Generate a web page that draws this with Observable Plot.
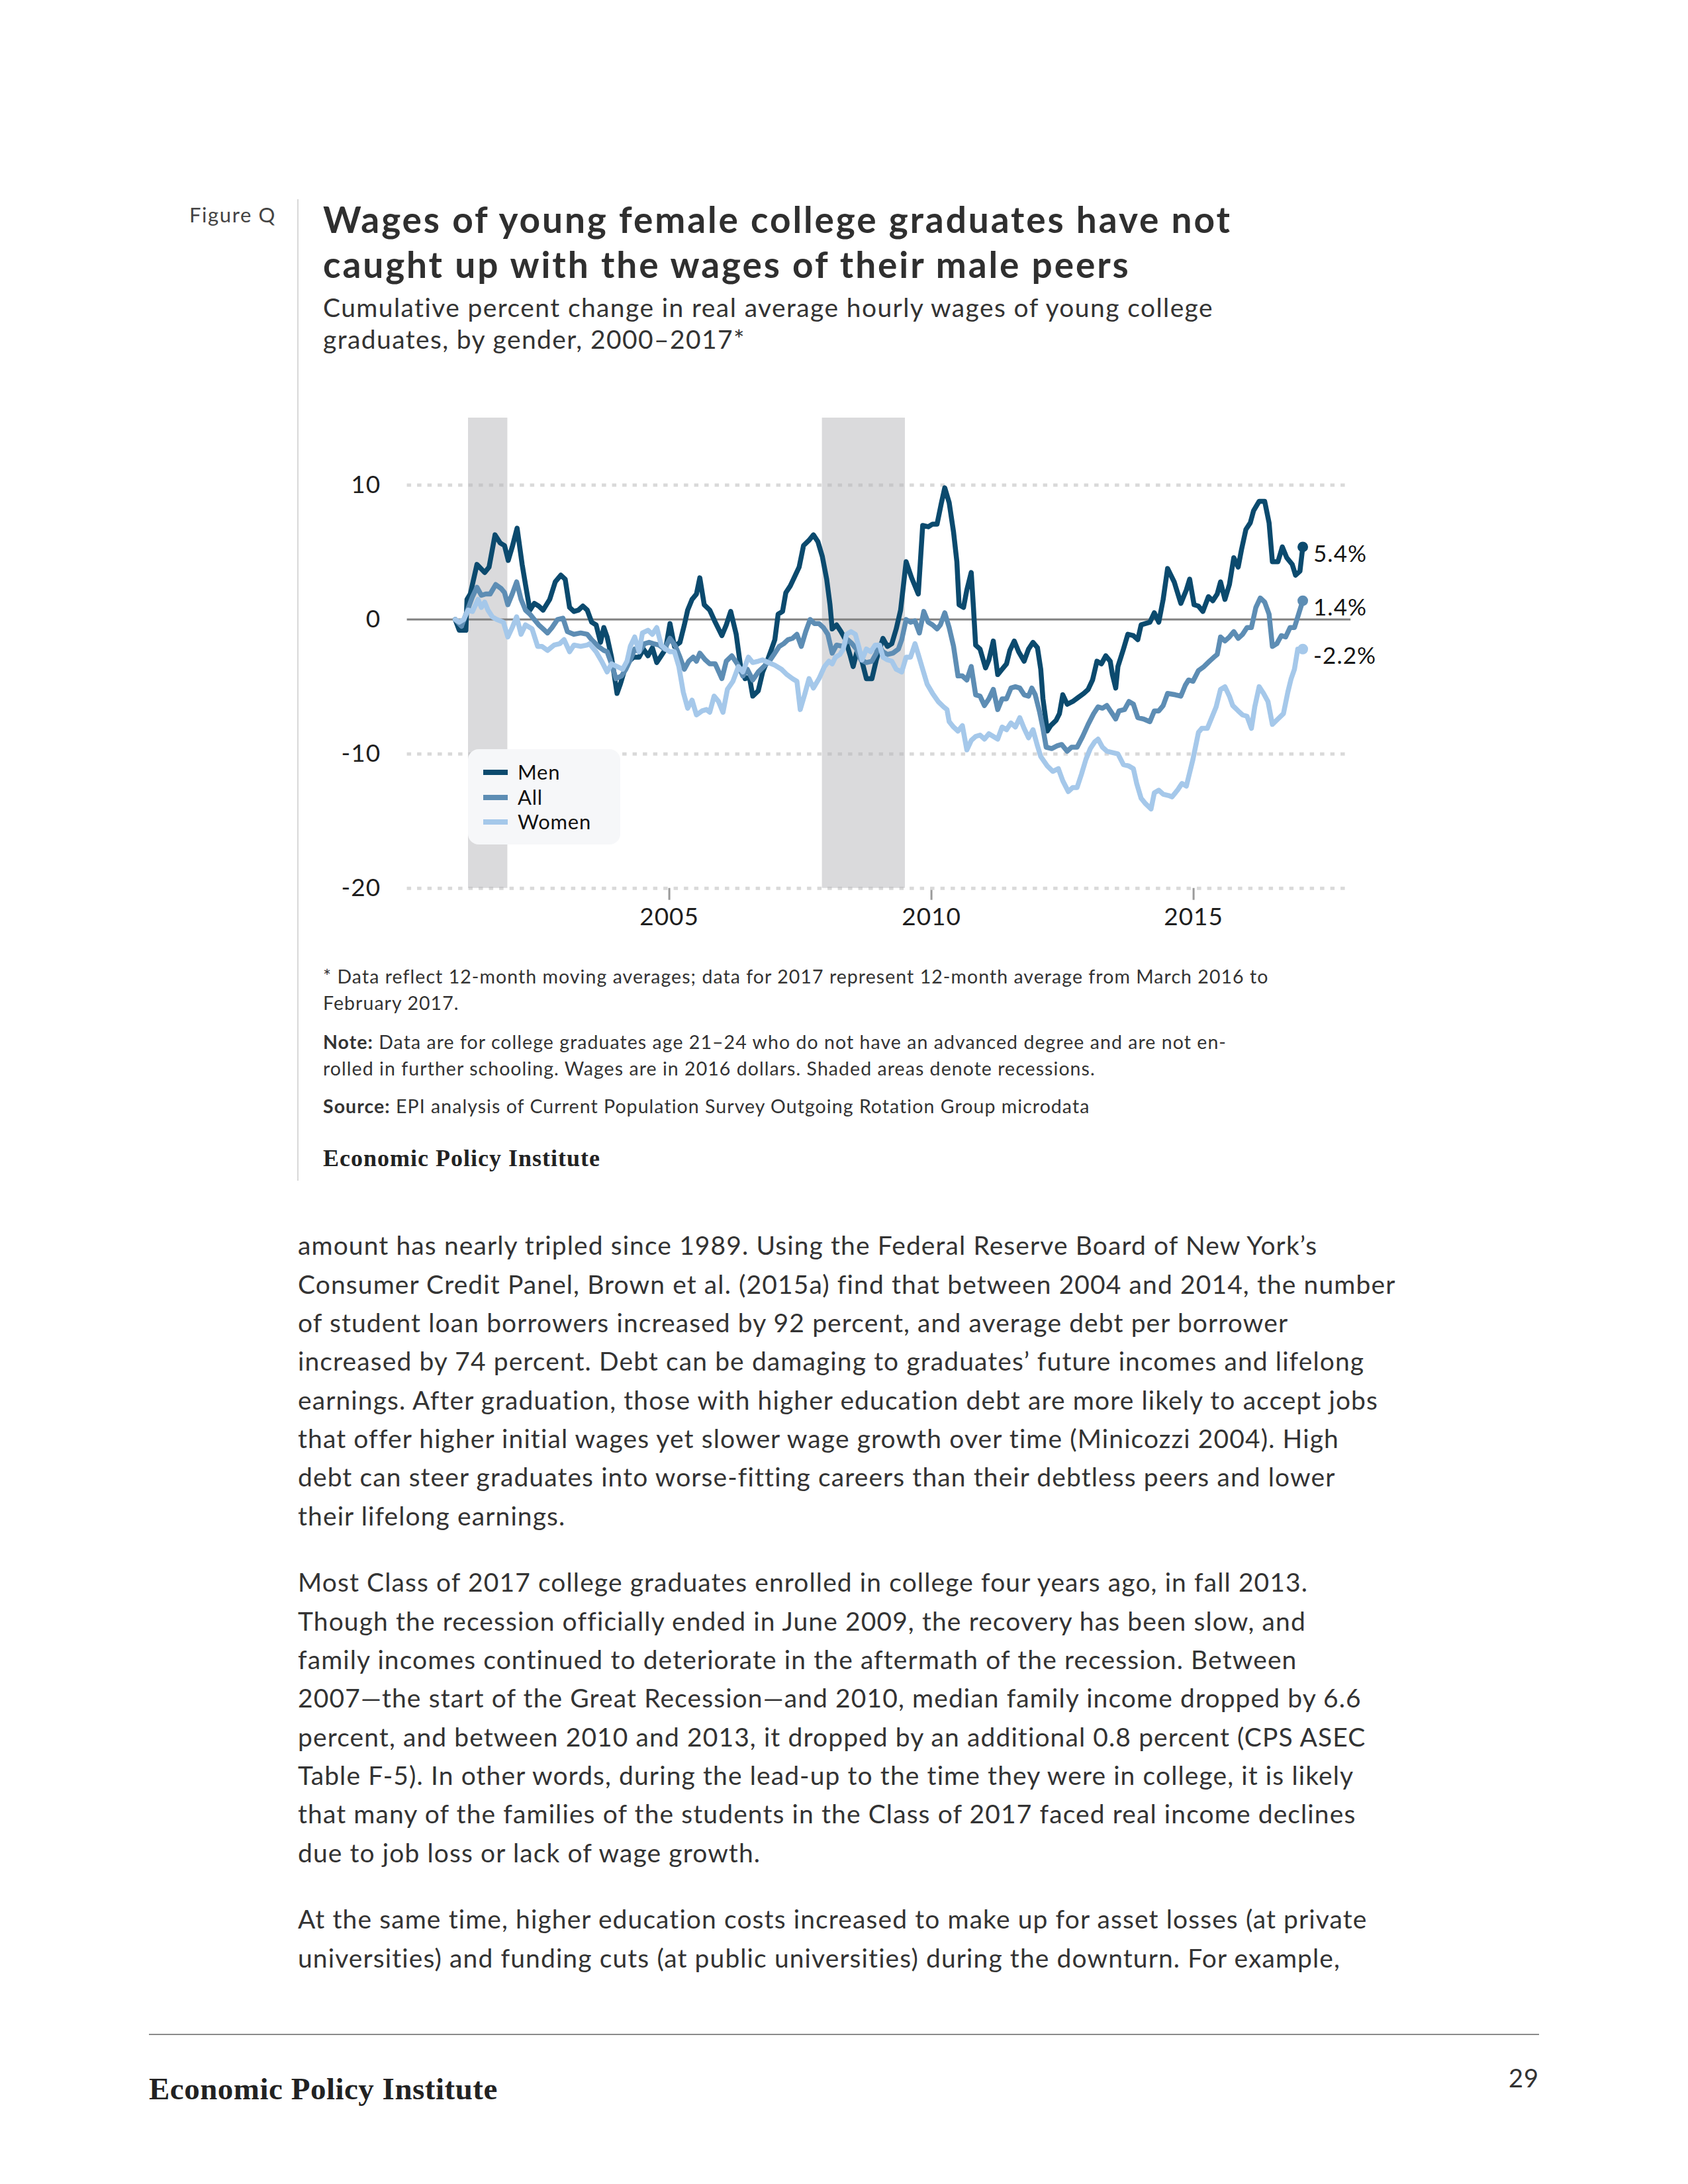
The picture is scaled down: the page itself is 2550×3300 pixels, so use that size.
<!DOCTYPE html>
<html><head><meta charset="utf-8">
<script src="https://cdn.jsdelivr.net/npm/d3@7"></script>
<script src="https://cdn.jsdelivr.net/npm/@observablehq/plot@0.6"></script>
<style>
html,body{margin:0;padding:0;background:#fff;}
#page{position:relative;width:2550px;height:3300px;background:#fff;overflow:hidden;font-family:Lato,"Open Sans",sans-serif;color:#333;}
.t{position:absolute;white-space:nowrap;line-height:1;}
#chart{position:absolute;left:0;top:600px;}
#chart svg{overflow:visible;}
#chart svg text{letter-spacing:1px;}
</style></head><body><div id="page"></div>
<script>
// ---------- data (year fraction, cumulative % change) ----------
const seriesNames = ["Men", "All", "Women"];
const seriesColors = ["#0b4a6e", "#5d8db4", "#a5c8ea"];
const xTicks = [2005, 2010, 2015];
const yTicks = [-20, -10, 0, 10];
const recessions = [{start: 2001.167, end: 2001.917}, {start: 2007.917, end: 2009.5}];

const men = [[2000.917,0.0],[2000.994,-0.8],[2001.12,-0.8],[2001.141,1.5],[2001.204,1.9],[2001.331,4.1],[2001.478,3.5],[2001.562,3.9],[2001.676,6.3],[2001.773,5.7],[2001.857,5.5],[2001.928,4.4],[2002.004,5.4],[2002.097,6.8],[2002.193,4.1],[2002.257,2.6],[2002.341,0.7],[2002.425,1.2],[2002.509,1.0],[2002.593,0.7],[2002.719,1.5],[2002.825,2.8],[2002.930,3.3],[2003.014,3.0],[2003.098,0.9],[2003.182,0.6],[2003.267,0.7],[2003.351,1.0],[2003.435,0.7],[2003.519,-0.2],[2003.604,-0.4],[2003.688,-1.7],[2003.751,-0.6],[2003.814,-1.3],[2003.898,-2.8],[2004.003,-5.5],[2004.067,-4.8],[2004.151,-3.7],[2004.235,-3.1],[2004.319,-2.8],[2004.424,-2.8],[2004.508,-2.2],[2004.593,-2.7],[2004.677,-2.1],[2004.761,-3.2],[2004.845,-2.7],[2004.929,-2.2],[2005.013,-0.3],[2005.098,-2.0],[2005.203,-1.7],[2005.287,-0.4],[2005.350,0.7],[2005.434,1.5],[2005.518,1.9],[2005.582,3.1],[2005.666,1.1],[2005.771,0.7],[2005.876,-0.2],[2006.003,-1.2],[2006.087,-0.4],[2006.171,0.6],[2006.276,-1.1],[2006.360,-3.5],[2006.445,-4.4],[2006.529,-4.3],[2006.592,-5.7],[2006.697,-5.3],[2006.781,-3.9],[2006.866,-3.1],[2006.950,-2.2],[2007.013,-1.5],[2007.076,0.4],[2007.160,0.6],[2007.223,2.0],[2007.307,2.5],[2007.392,3.2],[2007.476,3.9],[2007.560,5.5],[2007.665,5.9],[2007.749,6.3],[2007.834,5.8],[2007.918,4.7],[2008.002,3.0],[2008.065,1.1],[2008.107,-0.7],[2008.191,-0.4],[2008.275,-0.9],[2008.360,-1.5],[2008.444,-2.6],[2008.507,-3.5],[2008.591,-2.2],[2008.675,-3.1],[2008.759,-4.4],[2008.865,-4.4],[2008.949,-3.0],[2009.075,-1.4],[2009.160,-2.0],[2009.244,-1.8],[2009.328,-0.7],[2009.412,0.7],[2009.517,4.3],[2009.622,3.1],[2009.749,1.9],[2009.833,7.0],[2009.938,6.9],[2010.022,7.1],[2010.107,7.1],[2010.191,8.7],[2010.254,9.8],[2010.338,8.7],[2010.422,6.5],[2010.485,4.3],[2010.527,1.1],[2010.612,0.9],[2010.675,2.2],[2010.759,3.5],[2010.801,0.9],[2010.843,-1.9],[2010.927,-2.2],[2011.032,-3.6],[2011.096,-3.0],[2011.180,-1.6],[2011.264,-4.1],[2011.348,-3.7],[2011.432,-3.3],[2011.495,-2.3],[2011.580,-1.6],[2011.664,-2.4],[2011.768,-3.1],[2011.852,-2.2],[2011.937,-1.7],[2012.022,-2.1],[2012.085,-3.7],[2012.127,-5.9],[2012.210,-8.3],[2012.273,-7.9],[2012.378,-7.5],[2012.442,-7.0],[2012.505,-5.6],[2012.589,-6.3],[2012.694,-6.1],[2012.799,-5.8],[2012.905,-5.5],[2012.989,-5.2],[2013.073,-4.5],[2013.157,-3.1],[2013.241,-3.3],[2013.325,-2.7],[2013.410,-3.1],[2013.452,-4.1],[2013.515,-5.1],[2013.557,-3.5],[2013.662,-2.2],[2013.746,-1.1],[2013.852,-1.2],[2013.936,-1.5],[2013.999,-0.4],[2014.083,-0.3],[2014.167,-0.2],[2014.251,0.5],[2014.336,-0.2],[2014.420,1.5],[2014.504,3.8],[2014.630,2.8],[2014.757,1.2],[2014.862,2.2],[2014.925,3.0],[2015.009,1.1],[2015.093,1.0],[2015.177,0.6],[2015.283,1.7],[2015.367,1.4],[2015.451,1.9],[2015.514,2.8],[2015.598,1.5],[2015.683,2.6],[2015.767,4.6],[2015.851,3.9],[2015.914,5.2],[2015.998,6.7],[2016.082,7.2],[2016.145,8.1],[2016.251,8.8],[2016.356,8.8],[2016.440,7.2],[2016.503,4.3],[2016.609,4.3],[2016.693,5.4],[2016.777,4.6],[2016.882,4.1],[2016.945,3.3],[2017.029,3.6],[2017.083,5.4]];

const all = [[2000.917,0.0],[2001.036,-0.5],[2001.141,0.6],[2001.246,1.7],[2001.331,2.4],[2001.415,1.8],[2001.499,1.9],[2001.583,1.9],[2001.688,2.6],[2001.794,2.3],[2001.857,2.0],[2001.920,1.1],[2002.004,1.9],[2002.088,2.8],[2002.172,1.5],[2002.257,0.7],[2002.341,0.4],[2002.425,0.0],[2002.509,-0.4],[2002.593,-0.7],[2002.677,-1.0],[2002.762,-0.6],[2002.867,0.0],[2002.972,0.1],[2003.056,-0.9],[2003.182,-1.1],[2003.309,-1.0],[2003.435,-1.1],[2003.519,-1.5],[2003.646,-2.0],[2003.751,-2.3],[2003.814,-2.4],[2003.898,-3.3],[2003.982,-4.4],[2004.088,-4.2],[2004.172,-3.7],[2004.256,-3.0],[2004.340,-2.2],[2004.424,-2.4],[2004.529,-1.8],[2004.614,-1.7],[2004.698,-1.8],[2004.803,-1.9],[2004.908,-2.2],[2005.013,-1.4],[2005.119,-2.0],[2005.203,-2.8],[2005.287,-3.7],[2005.371,-3.1],[2005.455,-2.8],[2005.518,-3.1],[2005.582,-2.5],[2005.687,-3.0],[2005.771,-3.3],[2005.876,-3.3],[2006.003,-4.4],[2006.087,-3.1],[2006.192,-2.7],[2006.297,-3.3],[2006.403,-4.2],[2006.487,-3.7],[2006.592,-4.5],[2006.697,-3.9],[2006.802,-3.5],[2006.908,-3.1],[2007.013,-2.5],[2007.097,-2.0],[2007.181,-1.8],[2007.265,-1.5],[2007.350,-1.4],[2007.434,-1.1],[2007.518,-2.0],[2007.602,-0.9],[2007.686,0.0],[2007.770,-0.3],[2007.855,-0.3],[2007.939,-0.6],[2008.023,-1.1],[2008.107,-2.5],[2008.191,-1.9],[2008.318,-2.0],[2008.402,-1.5],[2008.486,-1.8],[2008.570,-2.2],[2008.654,-3.0],[2008.759,-3.2],[2008.865,-3.1],[2008.949,-2.5],[2008.991,-1.9],[2009.075,-2.4],[2009.160,-2.6],[2009.265,-2.5],[2009.370,-2.2],[2009.433,-1.5],[2009.517,0.0],[2009.601,-0.2],[2009.686,-0.1],[2009.770,-1.0],[2009.854,0.6],[2009.938,-0.2],[2010.022,-0.4],[2010.107,-0.7],[2010.170,-0.4],[2010.254,0.5],[2010.338,-0.6],[2010.422,-2.0],[2010.506,-4.2],[2010.590,-4.2],[2010.675,-4.5],[2010.759,-3.5],[2010.843,-5.6],[2010.927,-5.7],[2011.011,-6.4],[2011.096,-5.9],[2011.180,-5.2],[2011.264,-6.7],[2011.348,-5.9],[2011.432,-5.9],[2011.517,-5.1],[2011.601,-5.0],[2011.685,-5.1],[2011.768,-5.6],[2011.852,-5.7],[2011.915,-5.1],[2011.980,-5.6],[2012.064,-6.9],[2012.127,-8.1],[2012.189,-9.5],[2012.294,-9.6],[2012.399,-9.4],[2012.484,-9.3],[2012.589,-9.8],[2012.673,-9.5],[2012.778,-9.5],[2012.884,-8.7],[2012.989,-7.8],[2013.094,-7.0],[2013.178,-6.5],[2013.262,-6.6],[2013.346,-6.4],[2013.431,-6.9],[2013.515,-7.4],[2013.578,-6.8],[2013.683,-6.7],[2013.767,-6.1],[2013.852,-6.3],[2013.936,-7.3],[2014.041,-7.4],[2014.167,-7.6],[2014.251,-6.8],[2014.336,-6.8],[2014.420,-6.4],[2014.504,-5.5],[2014.651,-5.6],[2014.757,-5.7],[2014.841,-4.9],[2014.904,-4.5],[2014.988,-4.6],[2015.093,-3.8],[2015.198,-3.5],[2015.304,-3.1],[2015.388,-2.8],[2015.451,-2.6],[2015.514,-1.3],[2015.598,-1.6],[2015.683,-1.3],[2015.767,-0.9],[2015.851,-1.4],[2015.935,-1.1],[2016.019,-0.6],[2016.103,-0.6],[2016.188,0.9],[2016.272,1.6],[2016.356,1.3],[2016.440,0.4],[2016.503,-2.0],[2016.588,-1.8],[2016.672,-1.2],[2016.756,-1.3],[2016.840,-0.6],[2016.924,-0.6],[2016.987,0.2],[2017.083,1.4]];

const women = [[2000.917,0.0],[2000.994,-0.2],[2001.078,0.0],[2001.162,0.7],[2001.246,0.6],[2001.352,1.5],[2001.415,0.9],[2001.478,1.3],[2001.541,0.7],[2001.625,0.2],[2001.709,0.0],[2001.836,-0.2],[2001.920,-1.3],[2002.004,-0.6],[2002.088,0.2],[2002.172,-1.1],[2002.257,-0.4],[2002.383,-0.7],[2002.488,-2.0],[2002.572,-2.0],[2002.677,-2.3],[2002.804,-1.9],[2002.909,-1.8],[2002.993,-1.5],[2003.098,-2.4],[2003.182,-1.9],[2003.309,-2.0],[2003.435,-1.9],[2003.477,-1.8],[2003.604,-2.4],[2003.709,-3.1],[2003.814,-3.9],[2003.898,-3.3],[2004.003,-3.5],[2004.109,-3.7],[2004.193,-3.1],[2004.256,-2.0],[2004.340,-1.3],[2004.424,-2.4],[2004.487,-1.0],[2004.593,-0.8],[2004.677,-1.1],[2004.761,-0.6],[2004.845,-1.9],[2004.929,-2.2],[2005.013,-2.4],[2005.098,-2.4],[2005.182,-3.5],[2005.266,-5.4],[2005.350,-6.6],[2005.434,-6.0],[2005.518,-7.1],[2005.624,-6.8],[2005.708,-6.7],[2005.771,-6.9],[2005.855,-5.7],[2005.939,-6.1],[2006.024,-6.9],[2006.108,-5.2],[2006.213,-4.6],[2006.318,-3.5],[2006.403,-3.9],[2006.508,-2.8],[2006.592,-3.2],[2006.697,-3.1],[2006.781,-3.0],[2006.887,-3.2],[2007.013,-3.4],[2007.139,-3.7],[2007.244,-4.1],[2007.350,-4.4],[2007.434,-4.6],[2007.497,-6.7],[2007.581,-5.6],[2007.665,-4.4],[2007.749,-5.1],[2007.855,-4.4],[2007.960,-3.5],[2008.044,-3.1],[2008.107,-3.3],[2008.170,-2.8],[2008.254,-2.6],[2008.318,-2.2],[2008.381,-1.1],[2008.465,-0.9],[2008.549,-1.1],[2008.612,-2.0],[2008.675,-3.0],[2008.759,-2.2],[2008.844,-2.4],[2008.928,-1.9],[2009.012,-1.9],[2009.075,-2.8],[2009.160,-3.0],[2009.244,-3.1],[2009.328,-3.7],[2009.433,-3.9],[2009.517,-2.8],[2009.601,-2.8],[2009.686,-1.8],[2009.749,-2.6],[2009.833,-3.7],[2009.917,-4.8],[2010.022,-5.5],[2010.128,-6.1],[2010.233,-6.5],[2010.296,-6.7],[2010.338,-7.6],[2010.422,-8.0],[2010.506,-8.3],[2010.590,-7.9],[2010.675,-9.7],[2010.759,-9.0],[2010.843,-8.7],[2010.927,-8.6],[2011.011,-8.9],[2011.096,-8.5],[2011.180,-8.7],[2011.264,-8.9],[2011.348,-8.0],[2011.432,-8.2],[2011.517,-7.7],[2011.601,-8.0],[2011.685,-7.3],[2011.768,-8.1],[2011.852,-8.8],[2011.937,-8.2],[2012.022,-9.4],[2012.085,-10.2],[2012.210,-10.9],[2012.315,-11.3],[2012.421,-11.1],[2012.505,-12.0],[2012.610,-12.8],[2012.694,-12.5],[2012.778,-12.5],[2012.862,-11.5],[2012.947,-10.4],[2013.031,-9.6],[2013.115,-9.1],[2013.178,-8.9],[2013.262,-9.5],[2013.346,-9.8],[2013.452,-9.9],[2013.557,-10.0],[2013.662,-10.8],[2013.767,-10.9],[2013.852,-11.1],[2013.915,-12.2],[2013.999,-13.3],[2014.083,-13.7],[2014.188,-14.1],[2014.251,-12.9],[2014.336,-12.7],[2014.420,-13.0],[2014.525,-13.1],[2014.588,-13.2],[2014.693,-12.7],[2014.778,-12.2],[2014.862,-12.4],[2014.988,-10.4],[2015.093,-8.4],[2015.156,-8.1],[2015.262,-8.1],[2015.346,-7.3],[2015.430,-6.5],[2015.514,-5.2],[2015.598,-5.0],[2015.683,-5.7],[2015.746,-6.4],[2015.851,-6.8],[2015.935,-7.1],[2016.019,-7.2],[2016.103,-8.1],[2016.167,-6.5],[2016.251,-5.0],[2016.335,-5.5],[2016.419,-6.1],[2016.503,-7.8],[2016.609,-7.4],[2016.714,-7.0],[2016.798,-5.4],[2016.861,-4.4],[2016.924,-3.7],[2016.987,-2.2],[2017.083,-2.2]];

const seriesData = [men, all, women];

// ---------- texts ----------
const figureLabel = "Figure Q";
const titleLines = ["Wages of young female college graduates have not", "caught up with the wages of their male peers"];
const subtitleLines = ["Cumulative percent change in real average hourly wages of young college", "graduates, by gender, 2000\u20132017*"];
const noteLines = [
  ["* Data reflect 12-month moving averages; data for 2017 represent 12-month average from March 2016 to", 1486],
  ["February 2017.", 1526],
  ["<b>Note:</b> Data are for college graduates age 21\u201324 who do not have an advanced degree and are not en-", 1585],
  ["rolled in further schooling. Wages are in 2016 dollars. Shaded areas denote recessions.", 1625],
  ["<b>Source:</b> EPI analysis of Current Population Survey Outgoing Rotation Group microdata", 1682]
];
const bodyParas = [
  ["amount has nearly tripled since 1989. Using the Federal Reserve Board of New York\u2019s",
   "Consumer Credit Panel, Brown et al. (2015a) find that between 2004 and 2014, the number",
   "of student loan borrowers increased by 92 percent, and average debt per borrower",
   "increased by 74 percent. Debt can be damaging to graduates\u2019 future incomes and lifelong",
   "earnings. After graduation, those with higher education debt are more likely to accept jobs",
   "that offer higher initial wages yet slower wage growth over time (Minicozzi 2004). High",
   "debt can steer graduates into worse-fitting careers than their debtless peers and lower",
   "their lifelong earnings."],
  ["Most Class of 2017 college graduates enrolled in college four years ago, in fall 2013.",
   "Though the recession officially ended in June 2009, the recovery has been slow, and",
   "family incomes continued to deteriorate in the aftermath of the recession. Between",
   "2007\u2014the start of the Great Recession\u2014and 2010, median family income dropped by 6.6",
   "percent, and between 2010 and 2013, it dropped by an additional 0.8 percent (CPS ASEC",
   "Table F-5). In other words, during the lead-up to the time they were in college, it is likely",
   "that many of the families of the students in the Class of 2017 faced real income declines",
   "due to job loss or lack of wage growth."],
  ["At the same time, higher education costs increased to make up for asset losses (at private",
   "universities) and funding cuts (at public universities) during the downturn. For example,"]
];
const paraStarts = [1897, 2406, 2915];

// ---------- page ----------
const page = document.getElementById("page");
function txt(html, o) {
  const d = document.createElement("div");
  d.className = "t";
  const size = o.size, ratio = o.ratio || 0.887;
  d.style.fontSize = size + "px";
  d.style.fontFamily = o.family || "Lato, sans-serif";
  d.style.fontWeight = o.weight || 400;
  d.style.color = o.color || "#333";
  d.style.top = (o.baseline - ratio * size) + "px";
  if (o.right != null) d.style.right = o.right + "px"; else d.style.left = o.left + "px";
  if (o.ls) d.style.letterSpacing = o.ls + "px";
  d.innerHTML = html;
  page.appendChild(d);
  return d;
}
function box(o) {
  const d = document.createElement("div");
  d.style.position = "absolute";
  Object.assign(d.style, o);
  page.appendChild(d);
  return d;
}

txt(figureLabel, {left: 286, baseline: 336, size: 31, color: "#444", ls: 1.6});
box({left: "449px", top: "301px", width: "2px", height: "1483px", background: "#d8d8d8"});
titleLines.forEach((l, i) => txt(l, {left: 488, baseline: 353 + i * 68, size: 55, weight: 700, color: "#2f2f2f", ls: 2.9}));
subtitleLines.forEach((l, i) => txt(l, {left: 488, baseline: 480 + i * 48, size: 39, color: "#333", ls: 1.4}));
noteLines.forEach(([l, b]) => txt(l, {left: 488, baseline: b, size: 28.5, color: "#333", ls: 1.05}));
txt("Economic Policy Institute", {left: 488, baseline: 1762, size: 36, weight: 700, family: "'Liberation Serif', serif", ratio: 0.84, color: "#222", ls: 1});

bodyParas.forEach((p, pi) => p.forEach((l, i) => txt(l, {left: 450, baseline: paraStarts[pi] + i * 58.3, size: 39, color: "#333", ls: 1.1})));

box({left: "225px", top: "3073px", width: "2100px", height: "2px", background: "#8a8a8a"});
txt("Economic Policy Institute", {left: 225, baseline: 3172, size: 47, weight: 700, family: "'Liberation Serif', serif", ratio: 0.84, color: "#222", ls: 0.5});
txt("29", {right: 225, baseline: 3154, size: 38, color: "#333", ls: 1});

// ---------- chart ----------
const rows = [];
seriesNames.forEach((name, i) => seriesData[i].forEach(([t, v]) => rows.push({series: name, t, v})));
const ends = seriesNames.map((name, i) => {
  const d = seriesData[i][seriesData[i].length - 1];
  return {series: name, t: d[0], v: d[1]};
});

const chart = Plot.plot({
  width: 2550, height: 800,
  marginLeft: 614.6, marginRight: 509.8, marginTop: 31, marginBottom: 58.3,
  style: {fontFamily: "Lato, sans-serif", fontSize: "37px", color: "#1e1e1e", background: "transparent", overflow: "visible"},
  x: {domain: [2000, 2018], ticks: xTicks, tickFormat: d => String(d), tickSize: 18, tickPadding: 12, label: null},
  y: {domain: [-20, 15], ticks: yTicks, tickFormat: d => String(d), tickSize: 0, tickPadding: 40, label: null},
  color: {domain: seriesNames, range: seriesColors},
  marks: [
    Plot.ruleY(yTicks.filter(d => d !== 0), {stroke: "#d9d9d9", strokeWidth: 5, strokeDasharray: "6.5,9"}),
    Plot.rect(recessions, {x1: "start", x2: "end", fill: "#b6b6ba", fillOpacity: 0.5}),
    Plot.ruleY([0], {stroke: "#808080", strokeWidth: 3}),
    Plot.line(rows, {x: "t", y: "v", z: "series", stroke: "series", strokeWidth: 7.5, strokeLinejoin: "round", strokeLinecap: "round"}),
    Plot.dot(ends, {x: "t", y: "v", fill: "series", r: 8}),
    Plot.text(ends, {x: "t", y: "v", text: d => `${d.v.toFixed(1)}%`, textAnchor: "start", dx: 16, dy: 11, fontSize: 35, fill: "#151515"})
  ]
});
const holder = document.createElement("div");
holder.id = "chart";
holder.appendChild(chart);
page.appendChild(holder);
chart.querySelectorAll('[aria-label="x-axis tick"] path, [aria-label="x-axis"] .tick line').forEach(e => {
  e.setAttribute("stroke", "#9a9a9a"); e.style.stroke = "#9a9a9a"; e.style.strokeWidth = "3";
});

// ---------- legend ----------
const lg = box({left: "707px", top: "1132px", width: "230px", height: "144px", background: "#f6f7f9", borderRadius: "16px"});
seriesNames.forEach((name, i) => {
  const cy = 35 + i * 37.5;
  const sw = document.createElement("div");
  Object.assign(sw.style, {position: "absolute", left: "23px", top: (cy - 4) + "px", width: "37px", height: "8px", background: seriesColors[i]});
  lg.appendChild(sw);
  const tx = document.createElement("div");
  Object.assign(tx.style, {position: "absolute", left: "75px", top: (cy - 18.75) + "px", fontSize: "31px", lineHeight: "37.5px", height: "37.5px", color: "#111", fontFamily: "Lato, sans-serif", whiteSpace: "nowrap", letterSpacing: "0.8px"});
  tx.textContent = name;
  lg.appendChild(tx);
});
</script></body></html>
